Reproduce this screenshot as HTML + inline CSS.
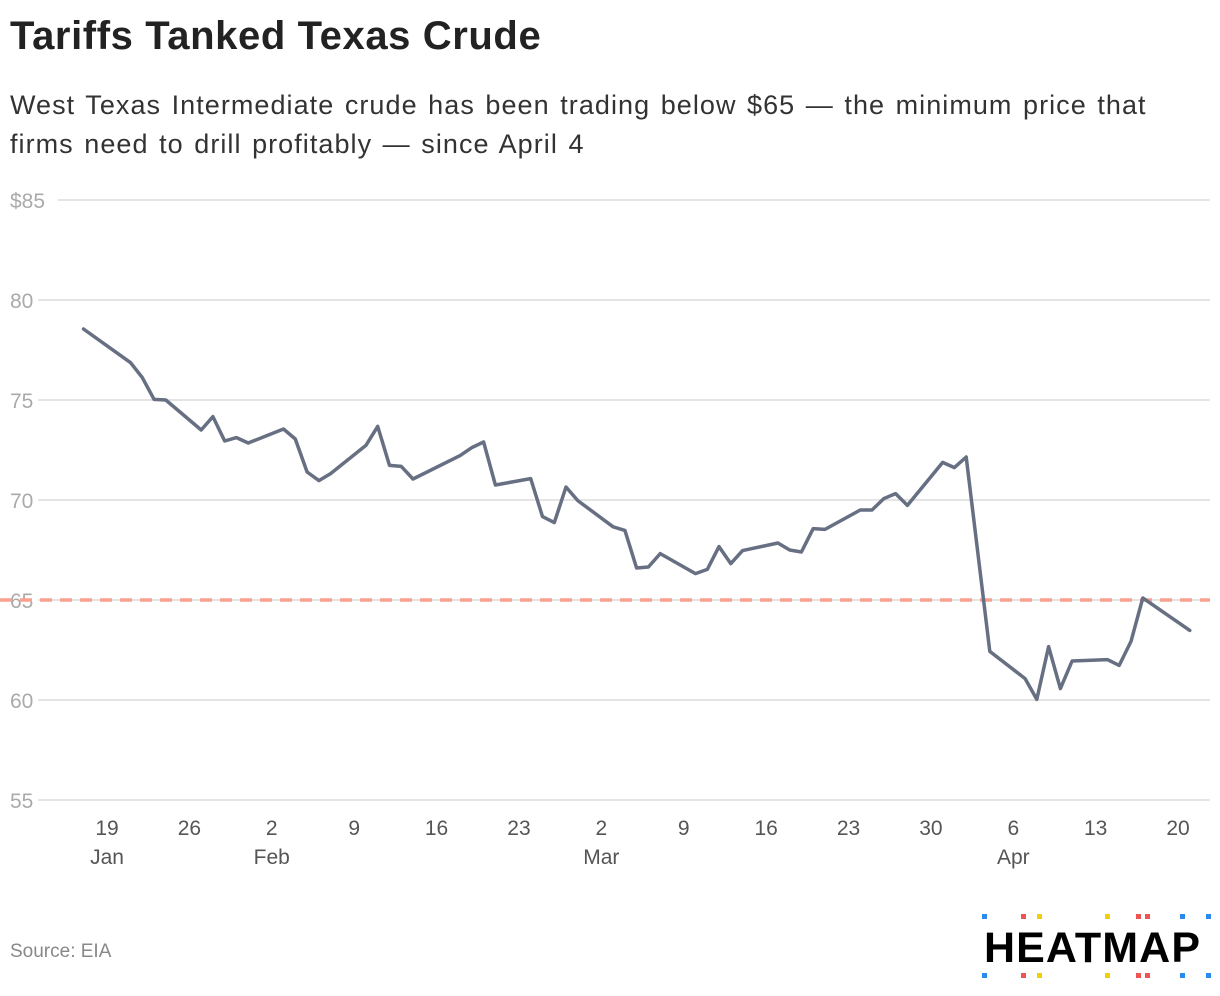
<!DOCTYPE html>
<html><head><meta charset="utf-8"><style>
html,body{margin:0;padding:0;background:#fff;width:1220px;height:996px;overflow:hidden;font-family:"Liberation Sans",sans-serif;}
#title{position:absolute;left:10px;top:14px;font-size:40px;font-weight:bold;color:#222;letter-spacing:0.6px;margin:0}
#subtitle{position:absolute;left:10px;top:86px;font-size:27px;line-height:39px;color:#333;width:1170px;margin:0;letter-spacing:1.05px;word-spacing:2px}
svg{position:absolute;left:0;top:0}
</style></head><body>
<h1 id="title">Tariffs Tanked Texas Crude</h1>
<p id="subtitle">West Texas Intermediate crude has been trading below $65 — the minimum price that<br>firms need to drill profitably — since April 4</p>
<svg id="chart" width="1220" height="996"></svg>
<script>
const dates=["2025-01-17","2025-01-21","2025-01-22","2025-01-23","2025-01-24","2025-01-27","2025-01-28","2025-01-29","2025-01-30","2025-01-31","2025-02-03","2025-02-04","2025-02-05","2025-02-06","2025-02-07","2025-02-10","2025-02-11","2025-02-12","2025-02-13","2025-02-14","2025-02-18","2025-02-19","2025-02-20","2025-02-21","2025-02-24","2025-02-25","2025-02-26","2025-02-27","2025-02-28","2025-03-03","2025-03-04","2025-03-05","2025-03-06","2025-03-07","2025-03-10","2025-03-11","2025-03-12","2025-03-13","2025-03-14","2025-03-17","2025-03-18","2025-03-19","2025-03-20","2025-03-21","2025-03-24","2025-03-25","2025-03-26","2025-03-27","2025-03-28","2025-03-31","2025-04-01","2025-04-02","2025-04-04","2025-04-07","2025-04-08","2025-04-09","2025-04-10","2025-04-11","2025-04-14","2025-04-15","2025-04-16","2025-04-17","2025-04-21"];
const prices=[78.55,76.87,76.12,75.03,75.0,73.5,74.17,72.95,73.12,72.85,73.55,73.05,71.4,70.97,71.32,72.73,73.68,71.73,71.68,71.05,72.22,72.62,72.9,70.75,71.07,69.17,68.87,70.65,69.97,68.66,68.48,66.6,66.65,67.32,66.32,66.53,67.67,66.82,67.47,67.85,67.5,67.4,68.57,68.53,69.5,69.5,70.07,70.32,69.73,71.88,71.62,72.15,62.43,61.07,60.03,62.67,60.57,61.95,62.02,61.73,62.93,65.1,63.48];
const yTicks=[85,80,75,70,65,60,55];
const yTickLabels=["$85","80","75","70","65","60","55"];
const xTickDates=["2025-01-19","2025-01-26","2025-02-02","2025-02-09","2025-02-16","2025-02-23","2025-03-02","2025-03-09","2025-03-16","2025-03-23","2025-03-30","2025-04-06","2025-04-13","2025-04-20"];
const xTickLabels=["19","26","2","9","16","23","2","9","16","23","30","6","13","20"];
const monthLabels=["Jan","Feb","Mar","Apr"];
const monthAt=[0,2,6,11];
const threshold=65;

const NS="http://www.w3.org/2000/svg";
const svg=document.getElementById('chart');
const t0=Date.UTC(2025,0,19);
function dayOf(s){const p=s.split('-');return (Date.UTC(+p[0],+p[1]-1,+p[2])-t0)/86400000;}
const xS=d=>107+dayOf(d)*11.77;
const yS=v=>200+(85-v)*20;
function mk(tag,attrs){const e=document.createElementNS(NS,tag);for(const k in attrs)e.setAttribute(k,attrs[k]);svg.appendChild(e);return e;}

yTicks.forEach((v,i)=>{
  const g=mk('line',{x1:i===0?58:38,x2:1210,y1:yS(v),y2:yS(v),stroke:'#e4e4e4','stroke-width':2});
  
  
  const t=mk('text',{x:10,y:yS(v)+8,'font-size':21,fill:'#aaa','font-family':'Liberation Sans, sans-serif'});
  t.textContent=yTickLabels[i];
  
  
});
xTickDates.forEach((d,i)=>{
  const t=mk('text',{x:xS(d),y:835,'font-size':21,fill:'#555','text-anchor':'middle','font-family':'Liberation Sans, sans-serif'});
  t.textContent=xTickLabels[i];
  
  
});
monthAt.forEach((idx,i)=>{
  const t=mk('text',{x:xS(xTickDates[idx]),y:864,'font-size':21,fill:'#555','text-anchor':'middle','font-family':'Liberation Sans, sans-serif'});
  t.textContent=monthLabels[i];
  
  
});
const th=mk('line',{x1:0,x2:1210,y1:yS(threshold),y2:yS(threshold),stroke:'#f9a08e','stroke-width':3.5,'stroke-dasharray':'12 8'});


const pts=dates.map((d,i)=>xS(d).toFixed(1)+','+yS(prices[i]).toFixed(1)).join(' ');
const line=mk('polyline',{points:pts,fill:'none',stroke:'#676f82','stroke-width':3.5,'stroke-linejoin':'round','stroke-linecap':'round'});



const src=mk('text',{x:10,y:957,'font-size':19,fill:'#888','font-family':'Liberation Sans, sans-serif'});
src.textContent='Source: EIA';



const logo=mk('text',{x:984,y:962,'font-size':43,'font-weight':'bold',fill:'#000','font-family':'Liberation Sans, sans-serif',textLength:216});
logo.textContent='HEATMAP';


const dotX=[982,1021,1037,1105,1136,1145,1180,1206];
const dotC=['#2a8af0','#f05353','#f0d000','#f0d000','#f05353','#f05353','#2a8af0','#2a8af0'];
[914,973].forEach(y=>dotX.forEach((x,i)=>{
  const r=mk('rect',{x:x,y:y,width:5,height:5,fill:dotC[i]});
  
  
}));
</script>
</body></html>
